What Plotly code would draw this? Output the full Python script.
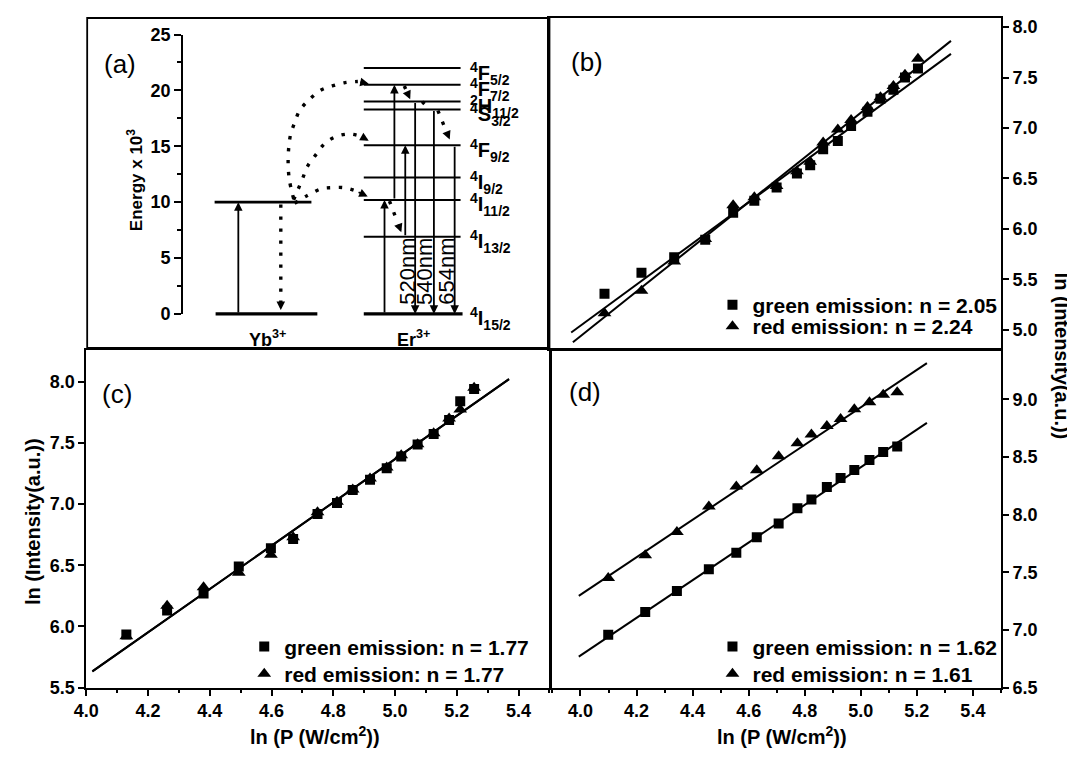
import plotly.graph_objects as go

# The page body adds an 8px margin, so the figure is drawn 8px in from the
# top-left corner; all geometry below is given in window pixels.
OFF = 8
WF, HF = 1075 - OFF, 759 - OFF
FONT = "Liberation Sans, Arial, Helvetica, sans-serif"

# ---------------- panel (a): energy-level scheme (energy x 10^3 cm^-1) ----------------
yb_levels = [10.0, 0.0]
er_levels = [22.0, 20.5, 19.0, 18.3, 15.1, 12.2, 10.2, 6.9, 0.0]
er_labels = ["<sup>4</sup>F<sub>5/2</sub>", "<sup>4</sup>F<sub>7/2</sub>", "<sup>2</sup>H<sub>11/2</sub>",
             "<sup>4</sup>S<sub>3/2</sub>", "<sup>4</sup>F<sub>9/2</sub>", "<sup>4</sup>I<sub>9/2</sub>",
             "<sup>4</sup>I<sub>11/2</sub>", "<sup>4</sup>I<sub>13/2</sub>", "<sup>4</sup>I<sub>15/2</sub>"]
energy_ticks = [0, 5, 10, 15, 20, 25]
yb_abs = [0.0, 10.0]                 # Yb absorption (solid, up)
yb_relax = [9.8, 0.35]               # Yb relaxation (dotted, down)
er_abs_from = [0.0, 10.2, 6.9]       # Er up-conversion steps (solid, up)
er_abs_to = [10.2, 20.5, 15.1]
er_emit_from = [19.0, 18.3, 15.1]    # Er emissions (solid, down)
er_emit_to = [0.0, 0.0, 0.0]
er_emit_labels = ["520nm", "540nm", "654nm"]
# energy-transfer paths Yb -> Er (dotted curves): horizontal path coordinate, energy
et1_path = [285, 298, 312, 323, 335, 347, 359]
et1_E = [9.9, 10.6, 11.2, 11.3, 11.3, 11.0, 10.5]
et2_path = [284, 293, 298, 307, 316, 328, 341, 352, 360]
et2_E = [10.2, 12.1, 13.2, 14.3, 15.3, 15.9, 16.1, 15.9, 15.5]
et3_path = [284, 279.5, 278.5, 281, 285, 290, 299, 311, 323, 336, 349, 360]
et3_E = [10.3, 12.1, 14.1, 16.1, 17.1, 18.2, 19.1, 20.0, 20.4, 20.7, 20.8, 20.6]
# non-radiative relaxations inside Er (dotted)
nr_from = [20.4, 19.0, 18.2, 10.1]
nr_to = [19.2, 18.35, 15.6, 7.3]

# ---------------- panels (b)-(d): ln(I) vs ln(P) ----------------
b_x = [4.095, 4.226, 4.342, 4.452, 4.551, 4.626, 4.705, 4.777, 4.824, 4.870, 4.922, 4.969,
       5.027, 5.073, 5.119, 5.160, 5.206]
b_green = [5.356, 5.564, 5.72, 5.893, 6.16, 6.28, 6.41, 6.55, 6.63, 6.79, 6.87, 7.02,
           7.16, 7.29, 7.38, 7.50, 7.59]
b_red = [5.165, 5.388, 5.676, 5.899, 6.234, 6.314, 6.426, 6.570, 6.665, 6.857, 6.985, 7.080,
         7.208, 7.304, 7.416, 7.527, 7.687]
b_fit_green_x = [3.977, 5.323]
b_fit_green_y = [4.973, 7.735]
b_fit_red_x = [3.983, 5.323]
b_fit_red_y = [4.877, 7.863]
b_names = ["green emission: n = 2.05", "red emission: n = 2.24"]

c_x = [4.130, 4.262, 4.380, 4.494, 4.598, 4.670, 4.749, 4.812, 4.863, 4.919, 4.973, 5.020,
       5.073, 5.125, 5.175, 5.211, 5.256]
c_green = [5.934, 6.13, 6.27, 6.49, 6.64, 6.715, 6.92, 7.01, 7.115, 7.20, 7.294, 7.39,
           7.488, 7.573, 7.688, 7.84, 7.94]
c_red = [5.92, 6.17, 6.32, 6.44, 6.587, 6.73, 6.934, 7.02, 7.12, 7.21, 7.30, 7.40,
         7.49, 7.58, 7.70, 7.773, 7.95]
c_fit_x = [4.02, 5.369]
c_fit_green_y = [5.633, 8.021]
c_fit_red_y = [5.633, 8.021]
c_names = ["green emission: n = 1.77", "red emission: n = 1.77"]

d_x = [4.099, 4.231, 4.344, 4.458, 4.556, 4.629, 4.707, 4.774, 4.824, 4.879, 4.928, 4.977,
       5.031, 5.080, 5.130]
d_green = [6.959, 7.156, 7.339, 7.528, 7.671, 7.804, 7.925, 8.057, 8.133, 8.240, 8.319, 8.389,
           8.474, 8.544, 8.592]
d_red = [7.452, 7.649, 7.851, 8.071, 8.246, 8.386, 8.507, 8.620, 8.696, 8.769, 8.831, 8.915,
         8.977, 9.042, 9.062]
d_fit_x = [3.994, 5.236]
d_fit_green_y = [6.770, 8.797]
d_fit_red_y = [7.297, 9.315]
d_names = ["green emission: n = 1.62", "red emission: n = 1.61"]

x_title = "ln (P (W/cm<sup>2</sup>))"
y_title = "ln (Intensity(a.u.))"


# ---------------- layout geometry (window pixels) ----------------
def px(v):
    return (v - OFF) / WF


def py(v):
    return 1 - (v - OFF) / HF


A_BOX = (75, 8, 543, 347)
A_AXIS_X = 172
A_E0, A_E25 = 312, 25
E_PER_PX = 25.0 / (A_E0 - A_E25)


def e_at(pyv):
    return (A_E0 - pyv) * E_PER_PX


YB_X = (204, 305)
ER_X = (355, 454)
YB_ABS_X, YB_RELAX_X = 228, 271
ER_ABS_X = [376, 386, 397]
ER_EMIT_X = [407, 426, 447]
ER_EMIT_LABEL_X = [399, 416.5, 438.5]
NR_X0 = [396, 414, 430, 381]
NR_X1 = [402, 421.5, 442, 393]
LABEL_X = 461

fig = go.Figure()
BLACK = "black"

# dummy trace for the visible energy axis
fig.add_trace(go.Scatter(x=[0.5], y=[0], xaxis="x", yaxis="y", mode="markers",
                         marker=dict(opacity=0), showlegend=False, hoverinfo="skip"))


def level_trace(x0, x1, levels, width):
    xs, ys = [], []
    for e in levels:
        xs += [x0, x1, None]
        ys += [e, e, None]
    return go.Scatter(x=xs, y=ys, xaxis="x2", yaxis="y2", mode="lines",
                      line=dict(color=BLACK, width=width), showlegend=False, hoverinfo="skip")


fig.add_trace(level_trace(YB_X[0], YB_X[1] - 3, [yb_levels[0]], 2.7))
fig.add_trace(level_trace(YB_X[0] + 1, YB_X[1] + 3, [yb_levels[1]], 3.4))
fig.add_trace(level_trace(ER_X[0], ER_X[1] - 1, er_levels[:-1], 2.0))
fig.add_trace(level_trace(ER_X[0], ER_X[1] + 1, [er_levels[-1]], 3.4))

DOT = dict(color=BLACK, width=3.4, dash="3.4px,8.6px")
annotations = []


def head(x_tip, e_tip, x_prev, e_prev, frac=0.25):
    tx = x_tip + (x_prev - x_tip) * frac
    te = e_tip + (e_prev - e_tip) * frac
    annotations.append(dict(x=x_tip, y=e_tip, ax=tx, ay=te, xref="x2", yref="y2", axref="x2",
                             ayref="y2", showarrow=True, arrowhead=2, arrowsize=0.95,
                             arrowwidth=1.8, arrowcolor=BLACK, text=""))


for pth, en in [(et1_path, et1_E), (et2_path, et2_E), (et3_path, et3_E)]:
    fig.add_trace(go.Scatter(x=pth[:-1], y=en[:-1], xaxis="x2", yaxis="y2", mode="lines",
                             line=dict(DOT, shape="spline", smoothing=1.0), showlegend=False,
                             hoverinfo="skip"))
    head(pth[-1], en[-1], pth[-2], en[-2], frac=0.9)

# Yb relaxation dotted
fig.add_trace(go.Scatter(x=[YB_RELAX_X, YB_RELAX_X], y=[yb_relax[0], yb_relax[1] + 0.6],
                         xaxis="x2", yaxis="y2", mode="lines", line=DOT, showlegend=False,
                         hoverinfo="skip"))
head(YB_RELAX_X, yb_relax[1], YB_RELAX_X, yb_relax[1] + 1.0, frac=0.6)

# Er non-radiative dotted
for x0, x1, e0, e1 in zip(NR_X0, NR_X1, nr_from, nr_to):
    fig.add_trace(go.Scatter(x=[x0, x0 + (x1 - x0) * 0.7], y=[e0, e0 + (e1 - e0) * 0.7],
                             xaxis="x2", yaxis="y2", mode="lines", line=DOT, showlegend=False,
                             hoverinfo="skip"))
    head(x1, e1, x0, e0, frac=0.3)


def solid_arrow(x, e_from, e_to):
    annotations.append(dict(x=x, y=e_to, ax=x, ay=e_from, xref="x2", yref="y2", axref="x2",
                            ayref="y2", showarrow=True, arrowhead=2, arrowsize=0.95,
                            arrowwidth=1.8, arrowcolor=BLACK, text=""))


solid_arrow(YB_ABS_X, yb_abs[0], yb_abs[1])
for x, a, b in zip(ER_ABS_X, er_abs_from, er_abs_to):
    solid_arrow(x, a, b)
for x, a, b in zip(ER_EMIT_X, er_emit_from, er_emit_to):
    solid_arrow(x, a, b)
for x, lab in zip(ER_EMIT_LABEL_X, er_emit_labels):
    annotations.append(dict(x=x, y=3.8, xref="x2", yref="y2", text=lab, showarrow=False,
                            textangle=-90, xanchor="center", yanchor="middle",
                            font=dict(family=FONT, size=22, color=BLACK)))
for e, lab in zip(er_levels, er_labels):
    annotations.append(dict(x=LABEL_X, y=e, xref="x2", yref="y2", text=lab, showarrow=False,
                            xanchor="left", yanchor="middle", yshift=-5,
                            font=dict(family=FONT, size=20, color=BLACK, weight=700)))

# ---------------- scatter panels ----------------
SQ = dict(symbol="square", size=10, color=BLACK)
TR = dict(symbol="triangle-up", size=12, color=BLACK)


def panel(xa, ya, xs, g, r, fgx, fgy, frx, fry, names, leg_g, leg_r):
    fig.add_trace(go.Scatter(x=fgx, y=fgy, xaxis=xa, yaxis=ya, mode="lines",
                             line=dict(color=BLACK, width=2), showlegend=False, hoverinfo="skip"))
    fig.add_trace(go.Scatter(x=frx, y=fry, xaxis=xa, yaxis=ya, mode="lines",
                             line=dict(color=BLACK, width=2), showlegend=False, hoverinfo="skip"))
    fig.add_trace(go.Scatter(x=xs, y=g, xaxis=xa, yaxis=ya, mode="markers", marker=SQ,
                             name=names[0], legend=leg_g))
    fig.add_trace(go.Scatter(x=xs[:len(r)], y=r, xaxis=xa, yaxis=ya, mode="markers", marker=TR,
                             name=names[1], legend=leg_r))


panel("x3", "y3", b_x, b_green, b_red, b_fit_green_x, b_fit_green_y, b_fit_red_x, b_fit_red_y,
      b_names, "legend", "legend2")
panel("x4", "y4", c_x, c_green, c_red, c_fit_x, c_fit_green_y, c_fit_x, c_fit_red_y,
      c_names, "legend3", "legend4")
panel("x5", "y5", d_x, d_green, d_red, d_fit_x, d_fit_green_y, d_fit_x, d_fit_red_y,
      d_names, "legend5", "legend6")

TICKFONT = dict(family=FONT, size=18, color=BLACK, weight=700)
AX = dict(showline=True, linecolor=BLACK, linewidth=1.8, ticks="outside", ticklen=6,
          tickwidth=1.6, tickcolor=BLACK, showgrid=False, zeroline=False, tickfont=TICKFONT)
MINOR = dict(dtick=0.1, ticks="outside", ticklen=3, tickwidth=1.6, tickcolor=BLACK, showgrid=False)

LEG = dict(bgcolor="rgba(0,0,0,0)", borderwidth=0, xanchor="left", yanchor="top",
           font=dict(family=FONT, size=21, color=BLACK, weight=700), tracegroupgap=0,
           itemwidth=30)
LEG_DY = 20   # legend top above the row centre

fig.update_layout(
    width=WF, height=HF, margin=dict(l=0, r=0, t=0, b=0),
    paper_bgcolor="white", plot_bgcolor="rgba(0,0,0,0)",
    font=dict(family=FONT, color=BLACK),
    # panel (a) visible energy axis
    xaxis=dict(domain=[px(A_AXIS_X), px(A_BOX[2])], range=[0, 1], visible=False),
    yaxis=dict(AX, domain=[py(A_E0), py(A_E25)], range=[0, 25], anchor="x",
               tickvals=energy_ticks, ticklen=7,
               minor=dict(dtick=2.5, ticks="outside", ticklen=4, tickwidth=1.6,
                          tickcolor=BLACK, showgrid=False)),
    # panel (a) drawing axes
    xaxis2=dict(domain=[px(A_BOX[0]), px(A_BOX[2])], range=[A_BOX[0], A_BOX[2]], visible=False,
                anchor="y2"),
    yaxis2=dict(domain=[py(A_BOX[3]), py(A_BOX[1])], range=[e_at(A_BOX[3]), e_at(A_BOX[1])],
                visible=False, anchor="x2"),
    # panel (b)
    xaxis3=dict(AX, domain=[px(543), px(1000)], range=[3.9, 5.5], anchor="y3", mirror=True,
                ticks="", showticklabels=False),
    yaxis3=dict(AX, domain=[py(348), py(8)], range=[4.81, 8.09], anchor="x3", side="right",
                mirror=True, dtick=0.5, tick0=5.0, tickformat=".1f"),
    # panel (c)
    xaxis4=dict(AX, domain=[px(74), px(543)], range=[4.0, 5.5], anchor="y4", mirror=True,
                dtick=0.2, tick0=4.0, tickformat=".1f", minor=MINOR),
    yaxis4=dict(AX, domain=[py(696), py(349)], range=[5.5, 8.26], anchor="x4", mirror=True,
                dtick=0.5, tick0=5.5, tickformat=".1f"),
    # panel (d)
    xaxis5=dict(AX, domain=[px(546), px(1000)], range=[3.9, 5.5], anchor="y5", mirror=True,
                dtick=0.2, tick0=4.0, tickformat=".1f", minor=MINOR),
    yaxis5=dict(AX, domain=[py(696), py(349)], range=[6.5, 9.43], anchor="x5", side="right",
                mirror=True, dtick=0.5, tick0=6.5, tickformat=".1f"),
    legend=dict(LEG, x=px(708), y=py(302 - LEG_DY)),
    legend2=dict(LEG, x=px(708), y=py(324 - LEG_DY)),
    legend3=dict(LEG, x=px(234), y=py(653 - LEG_DY)),
    legend4=dict(LEG, x=px(234), y=py(681 - LEG_DY)),
    legend5=dict(LEG, x=px(708), y=py(653 - LEG_DY)),
    legend6=dict(LEG, x=px(708), y=py(681 - LEG_DY)),
    shapes=[dict(type="rect", xref="paper", yref="paper", x0=px(A_BOX[0]), x1=px(A_BOX[2]),
                 y0=py(A_BOX[3]), y1=py(A_BOX[1]), line=dict(color=BLACK, width=1.8))],
)

BOLD = dict(family=FONT, size=20, color=BLACK, weight=700)
PLAIN = dict(family=FONT, size=26, color=BLACK)
C = dict(xref="paper", yref="paper", showarrow=False, xanchor="center", yanchor="middle")
annotations += [
    dict(C, x=px(108), y=py(55), text="(a)", font=PLAIN),
    dict(C, x=px(581), y=py(53), text="(b)", font=PLAIN),
    dict(C, x=px(105), y=py(394), text="(c)", font=PLAIN),
    dict(C, x=px(579), y=py(392), text="(d)", font=PLAIN),
    dict(C, x=px(123), y=py(175), text="Energy x 10<sup>3</sup>", textangle=-90,
         font=dict(BOLD, size=17)),
    dict(C, x=px(258), y=py(337), text="Yb<sup>3+</sup>", font=dict(BOLD, size=18)),
    dict(C, x=px(405), y=py(337), text="Er<sup>3+</sup>", font=dict(BOLD, size=18)),
    dict(C, x=px(20), y=py(525), text=y_title, textangle=-90, font=BOLD),
    dict(C, x=px(1062), y=py(355), text=y_title, textangle=90, font=BOLD),
    dict(C, x=px(306), y=py(745), text=x_title, font=BOLD),
    dict(C, x=px(778), y=py(745), text=x_title, font=BOLD),
]
fig.update_layout(annotations=annotations)

fig.write_html("out.html")
